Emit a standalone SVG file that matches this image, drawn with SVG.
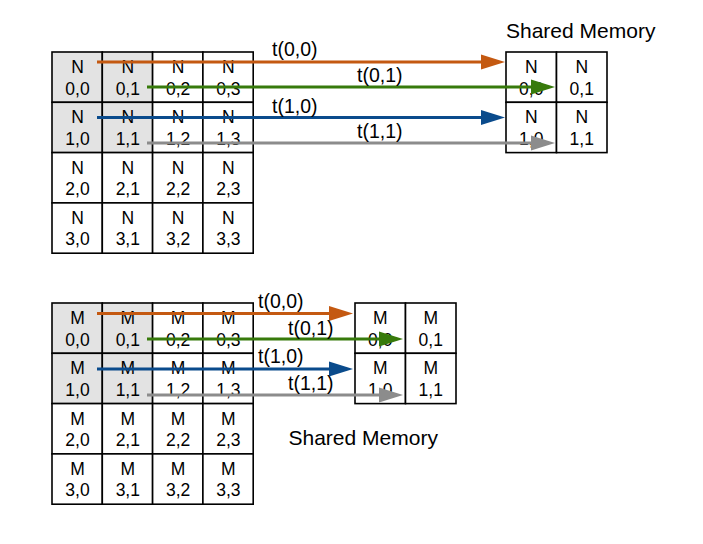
<svg xmlns="http://www.w3.org/2000/svg" width="703" height="544" viewBox="0 0 703 544">
<style>
  .cell{fill:#ffffff;stroke:#000;stroke-width:1.6}
  .hl{fill:#e3e3e3;stroke:#000;stroke-width:1.6}
  .ct{font-family:"Liberation Sans",Arial,sans-serif;font-size:17.5px;fill:#000;text-anchor:middle}
  .lbl{font-family:"Liberation Sans",Arial,sans-serif;font-size:19.5px;fill:#000}
  .title{font-family:"Liberation Sans",Arial,sans-serif;font-size:21px;fill:#000}
  .a{fill:none;stroke-width:3}
  .or{stroke:#c45911}
  .gr{stroke:#377a0b}
  .bl{stroke:#0a4b8c}
  .gy{stroke:#8c8c8c}
</style>
<defs>
  <marker id="mOr" markerUnits="userSpaceOnUse" markerWidth="24" markerHeight="16" refX="2" refY="8" orient="auto"><path d="M0,0.5 L24,8 L0,15.5 z" fill="#c45911"/></marker>
  <marker id="mGr" markerUnits="userSpaceOnUse" markerWidth="24" markerHeight="16" refX="2" refY="8" orient="auto"><path d="M0,0.5 L24,8 L0,15.5 z" fill="#377a0b"/></marker>
  <marker id="mBl" markerUnits="userSpaceOnUse" markerWidth="24" markerHeight="16" refX="2" refY="8" orient="auto"><path d="M0,0.5 L24,8 L0,15.5 z" fill="#0a4b8c"/></marker>
  <marker id="mGy" markerUnits="userSpaceOnUse" markerWidth="24" markerHeight="16" refX="2" refY="8" orient="auto"><path d="M0,0.5 L24,8 L0,15.5 z" fill="#8c8c8c"/></marker>
</defs>
<rect width="703" height="544" fill="#ffffff"/>

<!-- Top matrix N -->
<g id="matrixN">
  <rect class="hl" x="52" y="52" width="50.3" height="50.3"/>
  <rect class="hl" x="102.3" y="52" width="50.3" height="50.3"/>
  <rect class="cell" x="152.6" y="52" width="50.3" height="50.3"/>
  <rect class="cell" x="202.9" y="52" width="50.3" height="50.3"/>
  <rect class="hl" x="52" y="102.3" width="50.3" height="50.3"/>
  <rect class="hl" x="102.3" y="102.3" width="50.3" height="50.3"/>
  <rect class="cell" x="152.6" y="102.3" width="50.3" height="50.3"/>
  <rect class="cell" x="202.9" y="102.3" width="50.3" height="50.3"/>
  <rect class="cell" x="52" y="152.6" width="50.3" height="50.3"/>
  <rect class="cell" x="102.3" y="152.6" width="50.3" height="50.3"/>
  <rect class="cell" x="152.6" y="152.6" width="50.3" height="50.3"/>
  <rect class="cell" x="202.9" y="152.6" width="50.3" height="50.3"/>
  <rect class="cell" x="52" y="202.9" width="50.3" height="50.3"/>
  <rect class="cell" x="102.3" y="202.9" width="50.3" height="50.3"/>
  <rect class="cell" x="152.6" y="202.9" width="50.3" height="50.3"/>
  <rect class="cell" x="202.9" y="202.9" width="50.3" height="50.3"/>
  <g class="ct">
    <text x="77.5" y="73">N</text><text x="77.5" y="94.5">0,0</text>
    <text x="127.8" y="73">N</text><text x="127.8" y="94.5">0,1</text>
    <text x="178.1" y="73">N</text><text x="178.1" y="94.5">0,2</text>
    <text x="228.4" y="73">N</text><text x="228.4" y="94.5">0,3</text>
    <text x="77.5" y="123.3">N</text><text x="77.5" y="144.8">1,0</text>
    <text x="127.8" y="123.3">N</text><text x="127.8" y="144.8">1,1</text>
    <text x="178.1" y="123.3">N</text><text x="178.1" y="144.8">1,2</text>
    <text x="228.4" y="123.3">N</text><text x="228.4" y="144.8">1,3</text>
    <text x="77.5" y="173.6">N</text><text x="77.5" y="195.1">2,0</text>
    <text x="127.8" y="173.6">N</text><text x="127.8" y="195.1">2,1</text>
    <text x="178.1" y="173.6">N</text><text x="178.1" y="195.1">2,2</text>
    <text x="228.4" y="173.6">N</text><text x="228.4" y="195.1">2,3</text>
    <text x="77.5" y="223.9">N</text><text x="77.5" y="245.4">3,0</text>
    <text x="127.8" y="223.9">N</text><text x="127.8" y="245.4">3,1</text>
    <text x="178.1" y="223.9">N</text><text x="178.1" y="245.4">3,2</text>
    <text x="228.4" y="223.9">N</text><text x="228.4" y="245.4">3,3</text>
  </g>
</g>

<!-- Top shared memory -->
<g id="sharedN">
  <text class="title" x="506" y="37.5">Shared Memory</text>
  <rect class="cell" x="506" y="52" width="50.5" height="50.3"/>
  <rect class="cell" x="556.5" y="52" width="50.5" height="50.3"/>
  <rect class="cell" x="506" y="102.3" width="50.5" height="50.3"/>
  <rect class="cell" x="556.5" y="102.3" width="50.5" height="50.3"/>
  <g class="ct">
    <text x="531.2" y="73">N</text><text x="531.2" y="94.5">0,0</text>
    <text x="581.7" y="73">N</text><text x="581.7" y="94.5">0,1</text>
    <text x="531.2" y="123.3">N</text><text x="531.2" y="144.8">1,0</text>
    <text x="581.7" y="123.3">N</text><text x="581.7" y="144.8">1,1</text>
  </g>
</g>

<!-- Bottom matrix M -->
<g id="matrixM">
  <rect class="hl" x="52" y="303" width="50.3" height="50.3"/>
  <rect class="hl" x="102.3" y="303" width="50.3" height="50.3"/>
  <rect class="cell" x="152.6" y="303" width="50.3" height="50.3"/>
  <rect class="cell" x="202.9" y="303" width="50.3" height="50.3"/>
  <rect class="hl" x="52" y="353.3" width="50.3" height="50.3"/>
  <rect class="hl" x="102.3" y="353.3" width="50.3" height="50.3"/>
  <rect class="cell" x="152.6" y="353.3" width="50.3" height="50.3"/>
  <rect class="cell" x="202.9" y="353.3" width="50.3" height="50.3"/>
  <rect class="cell" x="52" y="403.6" width="50.3" height="50.3"/>
  <rect class="cell" x="102.3" y="403.6" width="50.3" height="50.3"/>
  <rect class="cell" x="152.6" y="403.6" width="50.3" height="50.3"/>
  <rect class="cell" x="202.9" y="403.6" width="50.3" height="50.3"/>
  <rect class="cell" x="52" y="453.9" width="50.3" height="50.3"/>
  <rect class="cell" x="102.3" y="453.9" width="50.3" height="50.3"/>
  <rect class="cell" x="152.6" y="453.9" width="50.3" height="50.3"/>
  <rect class="cell" x="202.9" y="453.9" width="50.3" height="50.3"/>
  <g class="ct">
    <text x="77.5" y="324">M</text><text x="77.5" y="345.5">0,0</text>
    <text x="127.8" y="324">M</text><text x="127.8" y="345.5">0,1</text>
    <text x="178.1" y="324">M</text><text x="178.1" y="345.5">0,2</text>
    <text x="228.4" y="324">M</text><text x="228.4" y="345.5">0,3</text>
    <text x="77.5" y="374.3">M</text><text x="77.5" y="395.8">1,0</text>
    <text x="127.8" y="374.3">M</text><text x="127.8" y="395.8">1,1</text>
    <text x="178.1" y="374.3">M</text><text x="178.1" y="395.8">1,2</text>
    <text x="228.4" y="374.3">M</text><text x="228.4" y="395.8">1,3</text>
    <text x="77.5" y="424.6">M</text><text x="77.5" y="446.1">2,0</text>
    <text x="127.8" y="424.6">M</text><text x="127.8" y="446.1">2,1</text>
    <text x="178.1" y="424.6">M</text><text x="178.1" y="446.1">2,2</text>
    <text x="228.4" y="424.6">M</text><text x="228.4" y="446.1">2,3</text>
    <text x="77.5" y="474.9">M</text><text x="77.5" y="496.4">3,0</text>
    <text x="127.8" y="474.9">M</text><text x="127.8" y="496.4">3,1</text>
    <text x="178.1" y="474.9">M</text><text x="178.1" y="496.4">3,2</text>
    <text x="228.4" y="474.9">M</text><text x="228.4" y="496.4">3,3</text>
  </g>
</g>

<!-- Bottom shared memory -->
<g id="sharedM">
  <rect class="cell" x="355" y="303" width="50.5" height="50.3"/>
  <rect class="cell" x="405.5" y="303" width="50.5" height="50.3"/>
  <rect class="cell" x="355" y="353.3" width="50.5" height="50.3"/>
  <rect class="cell" x="405.5" y="353.3" width="50.5" height="50.3"/>
  <g class="ct">
    <text x="380.2" y="324">M</text><text x="380.2" y="345.5">0,0</text>
    <text x="430.7" y="324">M</text><text x="430.7" y="345.5">0,1</text>
    <text x="380.2" y="374.3">M</text><text x="380.2" y="395.8">1,0</text>
    <text x="430.7" y="374.3">M</text><text x="430.7" y="395.8">1,1</text>
  </g>
  <text class="title" x="288.5" y="445">Shared Memory</text>
</g>

<!-- Connectors -->
<g id="connectors">
  <line class="a or" x1="97" y1="62" x2="483" y2="62" marker-end="url(#mOr)"/>
  <line class="a gr" x1="147" y1="87" x2="533" y2="87" marker-end="url(#mGr)"/>
  <line class="a bl" x1="97" y1="117.5" x2="483" y2="117.5" marker-end="url(#mBl)"/>
  <line class="a gy" x1="147" y1="143" x2="533" y2="143" marker-end="url(#mGy)"/>
  <text class="lbl" x="272" y="56">t(0,0)</text>
  <text class="lbl" x="357" y="82">t(0,1)</text>
  <text class="lbl" x="272" y="113">t(1,0)</text>
  <text class="lbl" x="357" y="138">t(1,1)</text>

  <line class="a or" x1="97" y1="313.5" x2="331" y2="313.5" marker-end="url(#mOr)"/>
  <line class="a gr" x1="147" y1="339" x2="381" y2="339" marker-end="url(#mGr)"/>
  <line class="a bl" x1="97" y1="369" x2="331" y2="369" marker-end="url(#mBl)"/>
  <line class="a gy" x1="147" y1="395" x2="381" y2="395" marker-end="url(#mGy)"/>
  <text class="lbl" x="258" y="308">t(0,0)</text>
  <text class="lbl" x="288" y="335">t(0,1)</text>
  <text class="lbl" x="258" y="363">t(1,0)</text>
  <text class="lbl" x="288" y="390">t(1,1)</text>
</g>
</svg>
